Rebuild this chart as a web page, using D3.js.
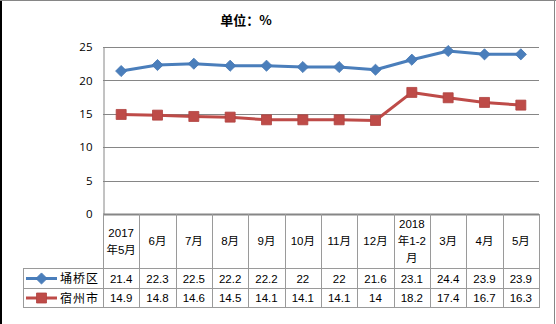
<!DOCTYPE html>
<html>
<head>
<meta charset="utf-8">
<script src="https://cdn.jsdelivr.net/npm/d3@7"></script>
<style>
  html, body { margin: 0; padding: 0; background: #fff; }
  svg { display: block; }
  text { font-family: "Liberation Sans", "Noto Sans CJK SC", sans-serif; fill: #000; }
</style>
</head>
<body>
<svg id="chart" width="556" height="324"></svg>
<script>
// Monthly share (%) for two regions, May 2017 – May 2018
const categories = ["2017\n年5月", "6月", "7月", "8月", "9月", "10月", "11月", "12月", "2018\n年1-2\n月", "3月", "4月", "5月"];
const yongqiao = [21.4, 22.3, 22.5, 22.2, 22.2, 22, 22, 21.6, 23.1, 24.4, 23.9, 23.9];
const suzhou = [14.9, 14.8, 14.6, 14.5, 14.1, 14.1, 14.1, 14, 18.2, 17.4, 16.7, 16.3];
const seriesNames = ["埇桥区", "宿州市"];
const yTicks = [0, 5, 10, 15, 20, 25];

const svg = d3.select("#chart");
const W = 556, H = 324;
const plotL = 103, plotR = 539, plotT = 47, plotB = 214;
const headerBottom = 268, row1Bottom = 288, row2Bottom = 307, legendLeft = 23;

// frame
svg.append("line").attr("x1", 1).attr("x2", 1).attr("y1", 0).attr("y2", H).attr("stroke", "#000").attr("stroke-width", 2);
svg.append("line").attr("x1", 0).attr("x2", W).attr("y1", 0.5).attr("y2", 0.5).attr("stroke", "#868686");
svg.append("line").attr("x1", 554.5).attr("x2", 554.5).attr("y1", 0).attr("y2", H).attr("stroke", "#868686");

const x = d3.scaleBand().domain(categories).range([plotL, plotR]);
const y = d3.scaleLinear().domain([0, 25]).range([plotB, plotT]);
const cx = d => x(d) + x.bandwidth() / 2;

// title
svg.append("text").attr("x", 246).attr("y", 25).attr("text-anchor", "middle")
  .attr("font-size", 13).attr("font-weight", "bold")
  .style("font-family", "'Noto Sans CJK SC', sans-serif").text("单位：%");

// gridlines
svg.append("g").selectAll("line").data(yTicks.filter(t => t > 0)).join("line")
  .attr("x1", plotL).attr("x2", plotR)
  .attr("y1", d => Math.round(y(d)) + 0.5).attr("y2", d => Math.round(y(d)) + 0.5)
  .attr("stroke", "#868686");

// y axis
const yAxis = d3.axisLeft(y).tickValues(yTicks).tickSize(0).tickPadding(11);
const gy = svg.append("g").attr("transform", `translate(${plotL + 0.5},0)`).call(yAxis);
gy.select(".domain").attr("stroke", "#868686");
gy.selectAll("text").attr("font-size", 11.5).style("font-family", "'Open Sans', sans-serif").attr("fill", "#000");

// data table
const tbl = svg.append("g");
const gridCol = "#9a9a9a";
// horizontal rules
tbl.append("line").attr("x1", plotL).attr("x2", plotR).attr("y1", plotB + 0.5).attr("y2", plotB + 0.5).attr("stroke", "#868686").attr("stroke-width", 2);
[headerBottom, row1Bottom, row2Bottom].forEach(yy => {
  tbl.append("line").attr("x1", legendLeft).attr("x2", plotR).attr("y1", yy + 0.5).attr("y2", yy + 0.5).attr("stroke", gridCol);
});
// vertical rules
const edges = categories.map(c => x(c)).concat([plotR]);
tbl.selectAll("line.v").data(edges).join("line").attr("class", "v")
  .attr("x1", d => Math.round(d) + 0.5).attr("x2", d => Math.round(d) + 0.5)
  .attr("y1", plotB).attr("y2", row2Bottom + 1).attr("stroke", gridCol);
tbl.append("line").attr("x1", legendLeft + 0.5).attr("x2", legendLeft + 0.5)
  .attr("y1", headerBottom).attr("y2", row2Bottom + 1).attr("stroke", gridCol);

// header labels
const lh = 17;
categories.forEach(c => {
  const lines = c.split("\n");
  const mid = (plotB + headerBottom) / 2;
  const t = tbl.append("text").attr("text-anchor", "middle").attr("font-size", 11.5);
  lines.forEach((ln, i) => {
    t.append("tspan").attr("x", cx(c)).attr("y", mid + (i - (lines.length - 1) / 2) * lh + 4).text(ln);
  });
});

const colors = ["#4a7ebb", "#be4b48"];
const data = [yongqiao, suzhou];
const rowMid = [(headerBottom + row1Bottom) / 2, (row1Bottom + row2Bottom) / 2];

data.forEach((vals, s) => {
  tbl.selectAll(null).data(vals).join("text")
    .attr("x", (d, i) => cx(categories[i])).attr("y", rowMid[s] + 4.5)
    .attr("text-anchor", "middle").attr("font-size", 11.5).text(d => d);
});

// markers
const diamond = d3.symbol().type(d3.symbolSquare).size(62);
const square = d3.symbol().type(d3.symbolSquare).size(100);
function drawMarker(g, s, px, py) {
  if (s === 0) {
    g.append("path").attr("d", diamond()).attr("transform", `translate(${px},${py}) rotate(45)`)
      .attr("fill", colors[0]).attr("stroke", "#4577b3").attr("stroke-width", 0.8);
  } else {
    g.append("path").attr("d", square()).attr("transform", `translate(${px},${py})`)
      .attr("fill", colors[1]).attr("stroke", "#b04340").attr("stroke-width", 0.8);
  }
}

// legend keys and names
seriesNames.forEach((n, s) => {
  const ly = rowMid[s] + 0.5;
  tbl.append("line").attr("x1", 26).attr("x2", 57).attr("y1", ly).attr("y2", ly)
    .attr("stroke", colors[s]).attr("stroke-width", 3);
  drawMarker(tbl, s, 41.5, ly);
  tbl.append("text").attr("x", 60).attr("y", rowMid[s] + 5).attr("font-size", 12)
    .style("font-family", "'Noto Sans CJK SC', sans-serif").attr("letter-spacing", 1).text(n);
});

// series lines
const line = d3.line().x((d, i) => cx(categories[i])).y(d => y(d));
data.forEach((vals, s) => {
  const g = svg.append("g");
  g.append("path").datum(vals).attr("d", line).attr("fill", "none")
    .attr("stroke", colors[s]).attr("stroke-width", 3).attr("stroke-linejoin", "round");
  vals.forEach((v, i) => drawMarker(g, s, cx(categories[i]), y(v)));
});
</script>
</body>
</html>
